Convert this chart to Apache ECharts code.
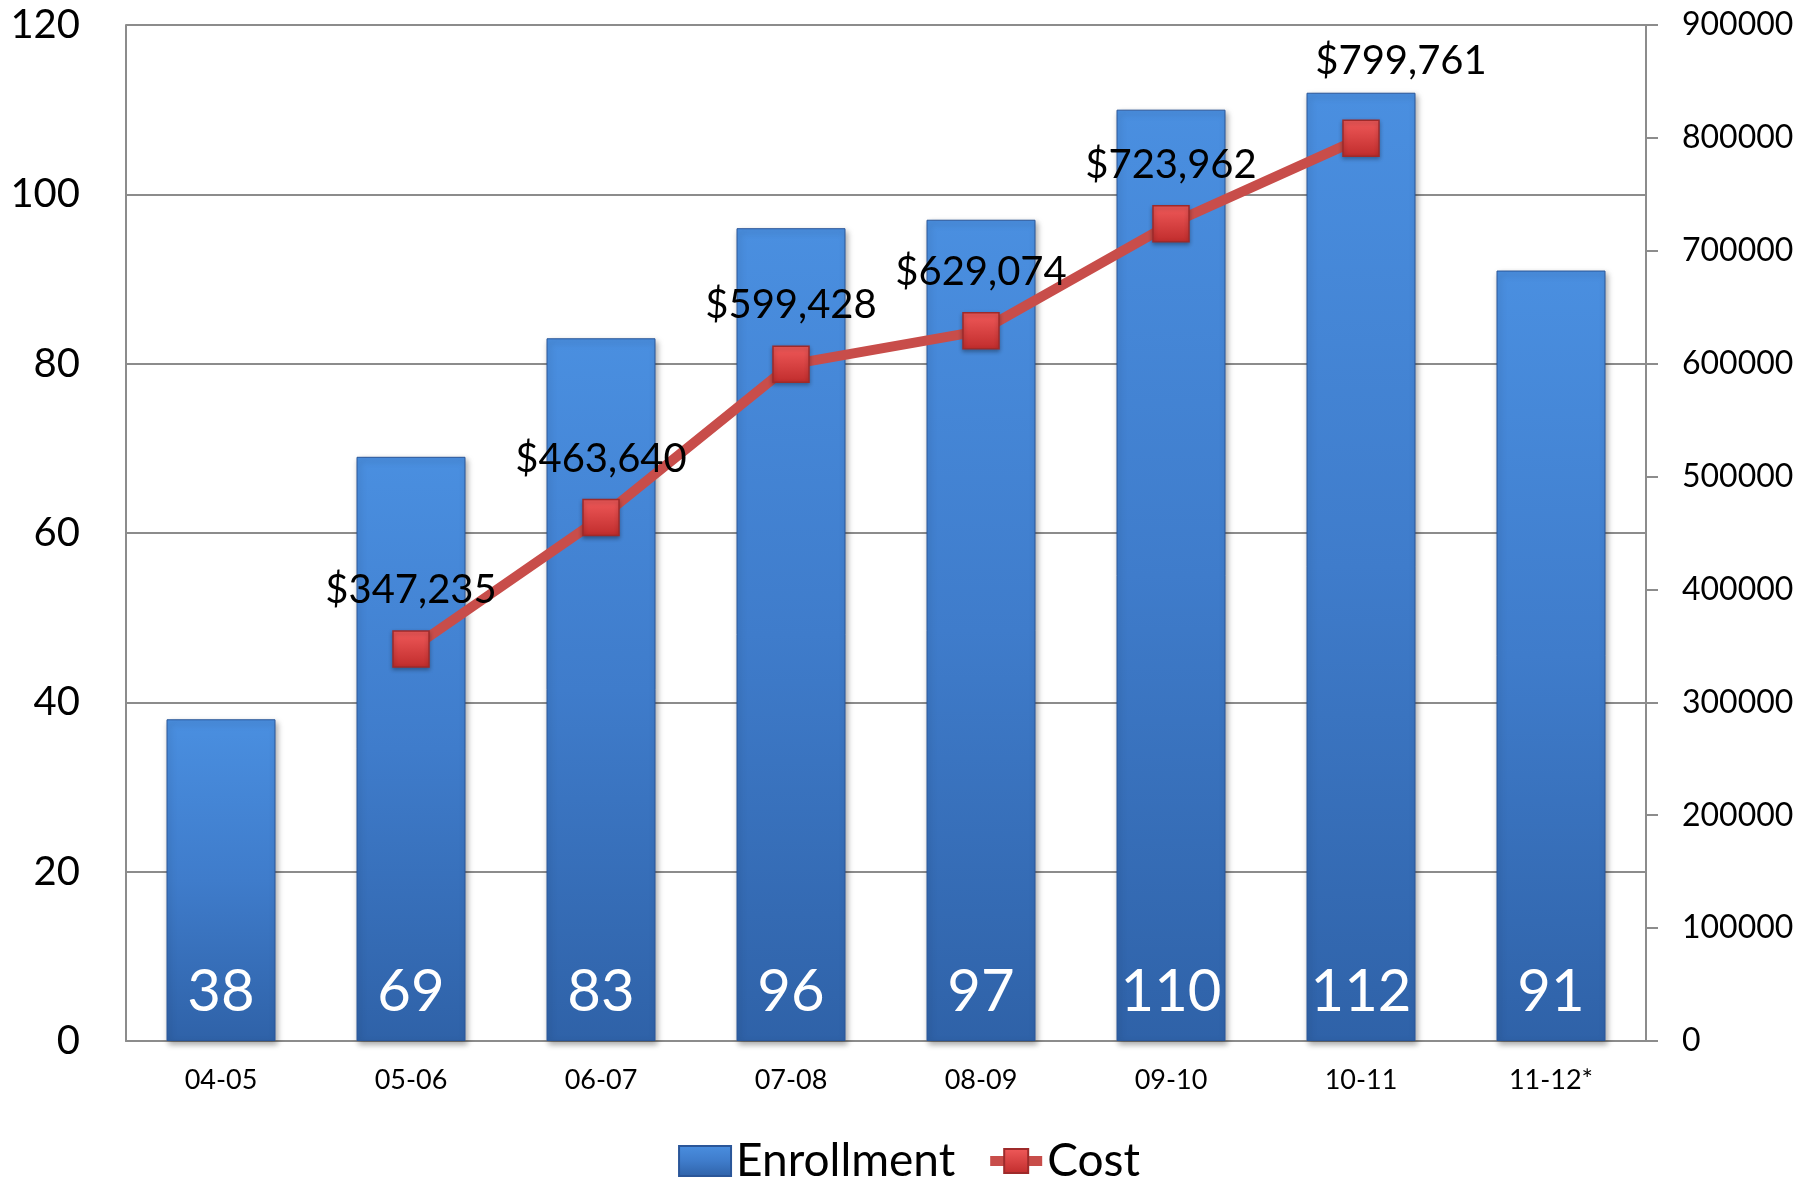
<!DOCTYPE html>
<html>
<head>
<meta charset="utf-8">
<script src="https://cdn.jsdelivr.net/npm/echarts@6/dist/echarts.min.js"></script>
<style>
  html, body { margin: 0; padding: 0; background: #fff; }
  #chart { width: 1818px; height: 1179px; }
</style>
</head>
<body>
<div id="chart"></div>
<script>
// school years on the x axis
const years = ['04-05', '05-06', '06-07', '07-08', '08-09', '09-10', '10-11', '11-12*']
// enrollment count per year (left axis)
const enrollment = [38, 69, 83, 96, 97, 110, 112, 91]
// program cost per year (right axis), no value for first and last year
const cost = [null, 347235, 463640, 599428, 629074, 723962, 799761, null]

const chart = echarts.init(document.getElementById('chart'))
const font = 'Lato, "Open Sans", sans-serif'

const fmtMoney = (v) => '$' + Number(v).toLocaleString('en-US')

chart.setOption({
  animation: false,
  textStyle: { fontFamily: font },
  grid: { left: 126, right: 172, top: 25, bottom: 138 },
  legend: {
    top: 1133,
    left: 'center',
    itemGap: 30,
    itemWidth: 52,
    itemHeight: 30,
    textStyle: { fontSize: 46, color: '#000', fontFamily: font },
    data: [
      { name: 'Enrollment', icon: 'rect' },
      { name: 'Cost', lineStyle: { width: 10, color: '#c84d4a' } }
    ]
  },
  xAxis: {
    type: 'category',
    data: years,
    axisLine: { lineStyle: { color: '#8c8c8c', width: 2 } },
    axisTick: { show: false },
    axisLabel: { fontSize: 27, color: '#000', margin: 26, fontFamily: font }
  },
  yAxis: [
    {
      type: 'value',
      min: 0,
      max: 120,
      interval: 20,
      axisLine: { show: true, lineStyle: { color: '#8c8c8c', width: 2 } },
      axisTick: { show: false },
      axisLabel: { fontSize: 40, color: '#000', margin: 46, fontFamily: font },
      splitLine: { lineStyle: { color: '#8c8c8c', width: 2 } }
    },
    {
      type: 'value',
      min: 0,
      max: 900000,
      interval: 100000,
      position: 'right',
      axisLine: { show: true, lineStyle: { color: '#8c8c8c', width: 2 } },
      axisTick: { show: true, length: 12, lineStyle: { color: '#8c8c8c', width: 2 } },
      axisLabel: {
        fontSize: 32, color: '#000', margin: 36, fontFamily: font,
        formatter: (v) => String(v)
      },
      splitLine: { show: false }
    }
  ],
  series: [
    {
      name: 'Enrollment',
      type: 'bar',
      data: enrollment,
      barWidth: 109,
      itemStyle: {
        color: new echarts.graphic.LinearGradient(0, 0, 0, 1, [
          { offset: 0, color: '#4a8fe0' },
          { offset: 0.5, color: '#3f7ccb' },
          { offset: 1, color: '#2f62a8' }
        ]),
        borderColor: '#2a5699',
        borderWidth: 1,
        shadowColor: 'rgba(0,0,0,0.35)',
        shadowBlur: 6,
        shadowOffsetX: 2,
        shadowOffsetY: 3
      },
      label: {
        show: true,
        position: 'insideBottom',
        distance: 20,
        color: '#fff',
        fontSize: 58,
        fontFamily: font
      }
    },
    {
      name: 'Cost',
      type: 'line',
      yAxisIndex: 1,
      data: cost.map((v, i) => i === 6 ? {
        value: v,
        label: { offset: [40, -18] }
      } : v),
      symbol: 'rect',
      symbolSize: 36,
      lineStyle: { color: '#c84d4a', width: 10 },
      itemStyle: {
        color: new echarts.graphic.LinearGradient(0, 0, 0, 1, [
          { offset: 0, color: '#f05a5a' },
          { offset: 1, color: '#c02c2c' }
        ]),
        borderColor: '#9e2a2a',
        borderWidth: 1.5,
        shadowColor: 'rgba(0,0,0,0.3)',
        shadowBlur: 4,
        shadowOffsetY: 2
      },
      label: {
        show: true,
        position: 'top',
        distance: 20,
        color: '#000',
        fontSize: 40,
        fontFamily: font,
        formatter: (p) => fmtMoney(p.value)
      },
      z: 5
    }
  ]
})
</script>
</body>
</html>
